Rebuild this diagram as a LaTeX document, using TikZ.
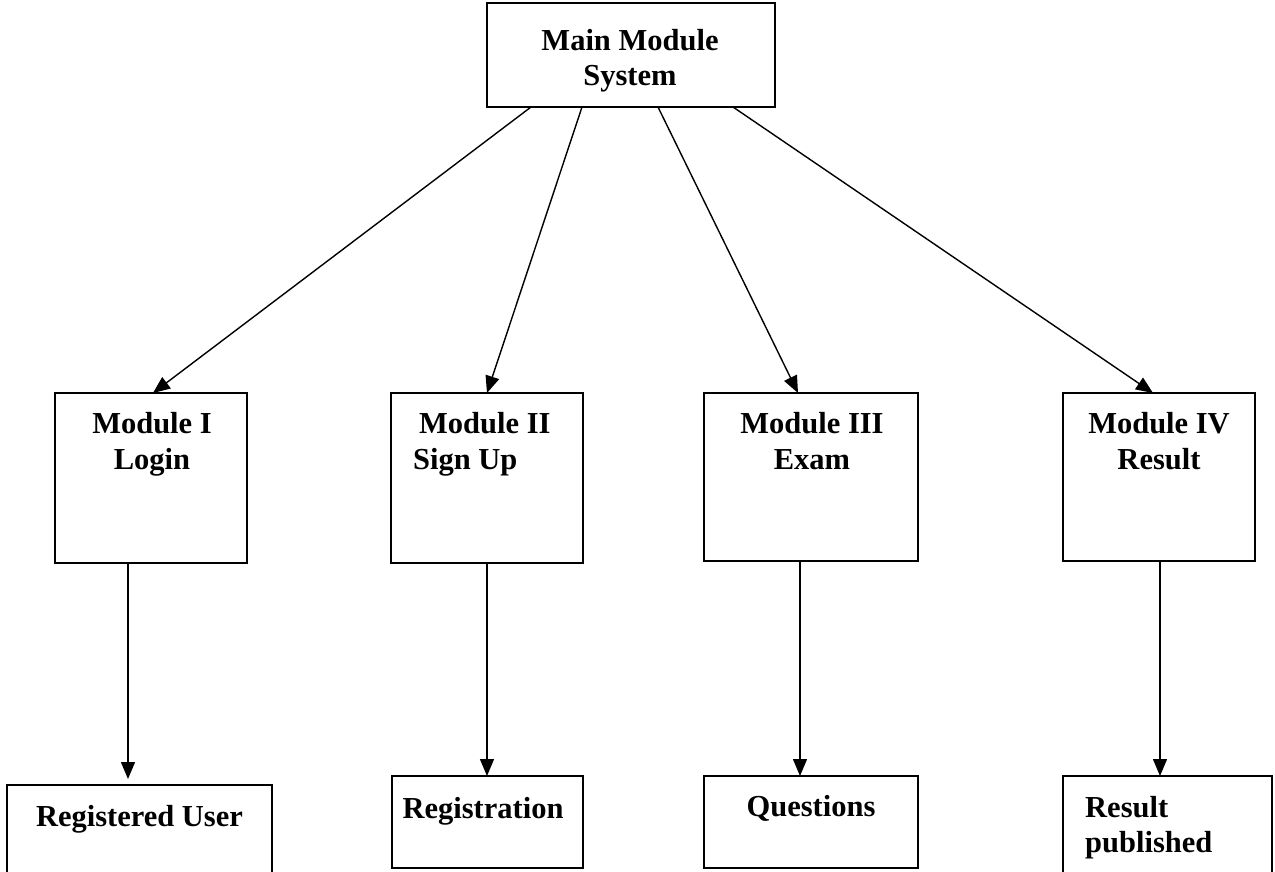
\documentclass[tikz,border=0pt]{standalone}
\usepackage{fontspec}
\setmainfont{Liberation Serif}
\usetikzlibrary{arrows.meta}
\begin{document}
\begin{tikzpicture}[x=1pt,y=-1pt,
  boxnode/.style={draw,line width=1.9pt,anchor=north west,inner sep=0pt,outer sep=0pt},
  txt/.style={font=\fontsize{30.5}{36}\selectfont\bfseries,inner sep=0pt,anchor=base},
  arr/.style={line width=1.4pt,-{Triangle[length=17pt,width=14pt]}}]
\useasboundingbox (0,0) rectangle (1275,871);
\clip (0,0) rectangle (1275,871);
% boxes
\node[boxnode,minimum width=288pt,minimum height=104pt] (main) at (487,3) {};
\node[boxnode,minimum width=192pt,minimum height=170pt] (m1) at (55,393) {};
\node[boxnode,minimum width=192pt,minimum height=170pt] (m2) at (391,393) {};
\node[boxnode,minimum width=214pt,minimum height=168pt] (m3) at (704,393) {};
\node[boxnode,minimum width=192pt,minimum height=168pt] (m4) at (1063,393) {};
\node[boxnode,minimum width=265pt,minimum height=130pt] (b1) at (7,785) {};
\node[boxnode,minimum width=191pt,minimum height=92pt] (b2) at (392,776) {};
\node[boxnode,minimum width=214pt,minimum height=92pt] (b3) at (704,776) {};
\node[boxnode,minimum width=209pt,minimum height=130pt] (b4) at (1063,776) {};
% texts
\node[txt] (tmain1) at (630,50) {Main Module};
\node[txt] (tmain2) at (630,85) {System};
\node[txt] (t11) at (152,433) {Module I};
\node[txt] (t12) at (152,469) {Login};
\node[txt,anchor=base west] (t21) at (419,433) {Module II};
\node[txt,anchor=base west] (t22) at (413,469) {Sign Up};
\node[txt] (t31) at (812,433) {Module III};
\node[txt] (t32) at (812,469) {Exam};
\node[txt] (t41) at (1159,433) {Module IV};
\node[txt] (t42) at (1159,469) {Result};
\node[txt] (tb1) at (139.5,826) {Registered User};
\node[txt] (tb2) at (483,818) {Registration};
\node[txt] (tb3) at (811,816) {Questions};
\node[txt,anchor=base west] (tb41) at (1085,817) {Result};
\node[txt,anchor=base west] (tb42) at (1085,852) {published};
% connectors
\draw[arr] ([xshift=44pt]main.south west) -- ([xshift=98pt]m1.north west);
\draw[arr] ([xshift=95pt]main.south west) -- ([xshift=96pt]m2.north west);
\draw[arr] ([xshift=171pt]main.south west) -- ([xshift=94pt]m3.north west);
\draw[arr] ([xshift=246pt]main.south west) -- ([xshift=90pt]m4.north west);
\draw[arr] ([xshift=73pt]m1.south west) -- ([xshift=121pt,yshift=6pt]b1.north west);
\draw[arr] ([xshift=96pt]m2.south west) -- ([xshift=95pt]b2.north west);
\draw[arr] ([xshift=96pt]m3.south west) -- ([xshift=96pt]b3.north west);
\draw[arr] ([xshift=97pt]m4.south west) -- ([xshift=97pt]b4.north west);
\end{tikzpicture}
\end{document}
